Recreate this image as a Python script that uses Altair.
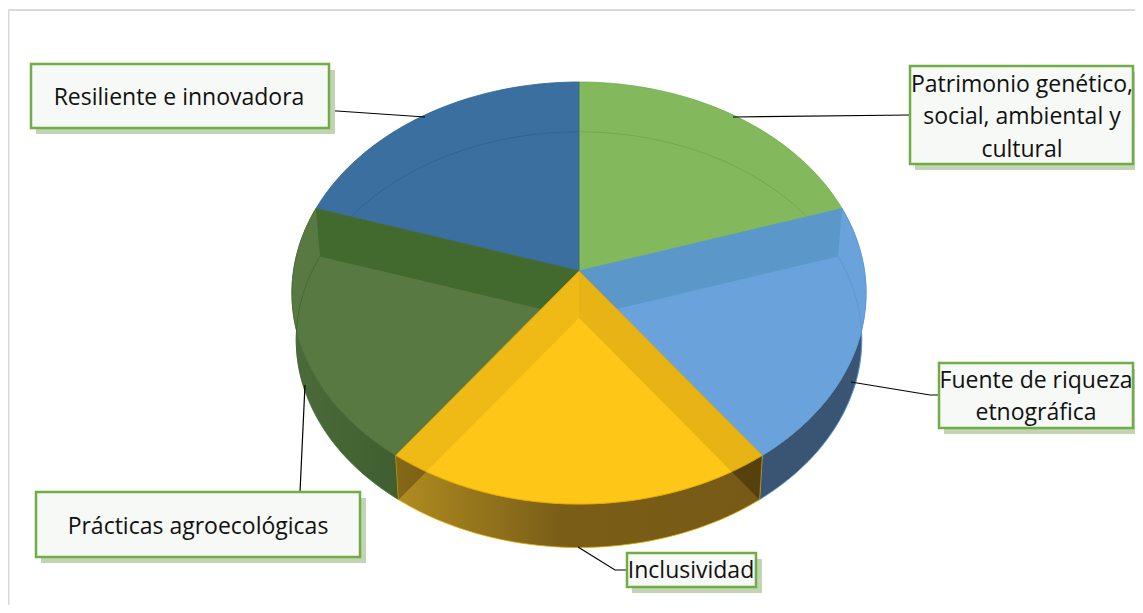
import math
import altair as alt
import pandas as pd

# --- chart values -----------------------------------------------------------
categories = ["Patrimonio genético, social, ambiental y cultural", "Fuente de riqueza etnográfica",
              "Inclusividad", "Prácticas agroecológicas", "Resiliente e innovadora"]
shares = [20, 20, 20, 20, 20]
top_colors = ["#83b95c", "#6aa3dc", "#fec617", "#587a42", "#3a6f9f"]
edge_colors = ["#70ad47", "#5b9bd5", "#e0a800", "#4b6b37", "#34658f"]
band_colors = [None, "#5b98c9", None, "#426a2f", None]

box_x = [31, 910, 939, 627, 36]
box_x2 = [329, 1133, 1133, 756, 360]
box_y = [64, 66, 363, 553, 492]
box_y2 = [128, 164, 428, 587, 557]

text_lines = ["Resiliente e innovadora", "Patrimonio genético,", "social, ambiental y", "cultural",
              "Fuente de riqueza", "etnográfica", "Inclusividad", "Prácticas agroecológicas"]
text_x = [179, 1022, 1022, 1022, 1036, 1036, 691, 198]
text_y = [98, 85, 117, 150, 381, 413, 571, 527]

leaders = [
    ([329, 337, 425], [111, 111, 117]),
    ([733, 910], [117, 115]),
    ([851, 930, 939], [382, 395, 395]),
    ([578, 615, 627], [547, 570, 570]),
    ([305, 300], [385, 492]),
]

# --- pie geometry -----------------------------------------------------------
CX, CY, AX, AY, PERSP = 579.0, 271.0, 285.5, 208.7, 0.1043
BOTTOM_CY, BOTTOM_SCALE = 318.0, 0.985
W, H = 1127, 597

def top_pt(deg):
    t = math.radians(deg)
    u, v = math.sin(t), -math.cos(t)
    d = 1 - PERSP * v
    return CX + AX * u / d, CY + AY * v / d

def bot_pt(deg):
    x, y = top_pt(deg)
    return CX + (x - CX) * BOTTOM_SCALE, BOTTOM_CY + (y - CY) * BOTTOM_SCALE

def arc(fn, a, b, step=1.5):
    n = max(2, int(abs(b - a) / step) + 1)
    return [fn(a + (b - a) * i / (n - 1)) for i in range(n)]

x_s = alt.Scale(domain=[8, 8 + W], range=[0, W], nice=False, zero=False)
y_s = alt.Scale(domain=[8, 8 + H], range=[0, H], nice=False, zero=False)
X = dict(type="quantitative", scale=x_s, axis=None)
Y = dict(type="quantitative", scale=y_s, axis=None)

def frame(pts):
    return pd.DataFrame({"x": [p[0] for p in pts], "y": [p[1] for p in pts], "i": range(len(pts))})

def poly(pts, fill, stroke=None, sw=0.8, opacity=None):
    pts = list(pts) + [pts[0]]
    kw = dict(fill=fill, interpolate="linear", clip=False)
    if stroke:
        kw.update(stroke=stroke, strokeWidth=sw)
    else:
        kw.update(strokeWidth=0, stroke="transparent")
    if opacity is not None:
        kw.update(fillOpacity=opacity)
    return alt.Chart(frame(pts)).mark_line(**kw).encode(
        x=alt.X("x", **X), y=alt.Y("y", **Y), order=alt.Order("i"))

def path(pts, stroke, sw=1.0, opacity=1.0):
    return alt.Chart(frame(pts)).mark_line(stroke=stroke, strokeWidth=sw, opacity=opacity, interpolate="linear").encode(
        x=alt.X("x", **X), y=alt.Y("y", **Y), order=alt.Order("i"))

def rect(x, x2, y, y2, **kw):
    d = pd.DataFrame({"x": [x], "x2": [x2], "y": [y], "y2": [y2]})
    return alt.Chart(d).mark_rect(**kw).encode(
        x=alt.X("x", **X), x2="x2", y=alt.Y("y", **Y), y2="y2")

# cumulative slice boundaries, clockwise from the back of the pie
bounds = [0.0]
for s in shares:
    bounds.append(bounds[-1] + 360.0 * s / sum(shares))

def top_face(k):
    return [(CX, CY)] + arc(top_pt, bounds[k], bounds[k + 1])

def side(k):
    return arc(top_pt, bounds[k], bounds[k + 1]) + arc(bot_pt, bounds[k + 1], bounds[k])

def wall(deg):
    return [(CX, CY), top_pt(deg), bot_pt(deg), (CX, BOTTOM_CY)]

side_fill = {
    1: "#3a5573",
    2: alt.Gradient(gradient="linear", x1=0, x2=1, y1=0, y2=0, stops=[
        alt.GradientStop(offset=0, color="#b08c20"),
        alt.GradientStop(offset=0.45, color="#7a5e18"),
        alt.GradientStop(offset=1, color="#775a15")]),
    3: alt.Gradient(gradient="linear", x1=0, x2=1, y1=0, y2=0, stops=[
        alt.GradientStop(offset=0, color="#4c6b3a"),
        alt.GradientStop(offset=1, color="#3f5f30")]),
}

layers = []

# outer frame
layers.append(rect(8, 9.5, 9, 613, fill="#d9d9d9"))
layers.append(rect(8, 1143, 9, 11, fill="#d9d9d9"))

# back slices
for k in (0, 4):
    layers.append(poly(top_face(k), top_colors[k], edge_colors[k]))
# rim of the base, seen through the back slices
layers.append(path(arc(bot_pt, 288, 360), "#2f5c85", 1.0, 0.6))
layers.append(path(arc(bot_pt, 0, 72), "#6ea04c", 1.0, 0.7))

# outer walls
for k in (1, 3, 2):
    layers.append(poly(side(k), side_fill[k], edge_colors[k]))

# dark triangles of the inner walls on the yellow outer wall
for deg in (bounds[2], bounds[3]):
    layers.append(poly(wall(deg), "#000000", None, opacity=0.2))

# front top faces with inner walls seen through them
for k in (1, 3):
    layers.append(poly(top_face(k), top_colors[k], edge_colors[k]))
layers.append(path(arc(bot_pt, 72, 110), "#4f8cc0", 1.0, 0.5))
layers.append(path(arc(bot_pt, 250, 288), "#3f5f30", 1.0, 0.7))
layers.append(poly(wall(bounds[1]), band_colors[1]))
layers.append(poly(wall(bounds[4]), band_colors[3]))
layers.append(poly(top_face(2), top_colors[2], "#e0a800"))
for deg, op in ((bounds[2], 0.085), (bounds[3], 0.06)):
    layers.append(poly(wall(deg), "#000000", None, opacity=op))

# leader lines
for lx, ly in leaders:
    layers.append(path(list(zip(lx, ly)), "#000000", 1.2))

# label boxes
for x0, x1, y0, y1 in zip(box_x, box_x2, box_y, box_y2):
    layers.append(rect(x0 + 5, min(x1 + 6, 1143), y0 + 6, y1 + 6, fill="#c3d4b5"))
    layers.append(rect(x0, x1, y0, y1, fill="#f7f9f6", stroke="#70ad47", strokeWidth=2.5))

labels = pd.DataFrame({"x": text_x, "y": text_y, "t": text_lines})
layers.append(alt.Chart(labels).mark_text(font="Open Sans", fontSize=23, color="#111111",
                                          align="center", baseline="middle").encode(
    x=alt.X("x", **X), y=alt.Y("y", **Y), text="t"))

chart = alt.layer(*layers).properties(
    width=W, height=H, padding=0, autosize=alt.AutoSizeParams(type="none"), background="#ffffff"
).configure_view(stroke=None)

chart.save("out.html", embed_options={"renderer": "svg", "actions": False})
